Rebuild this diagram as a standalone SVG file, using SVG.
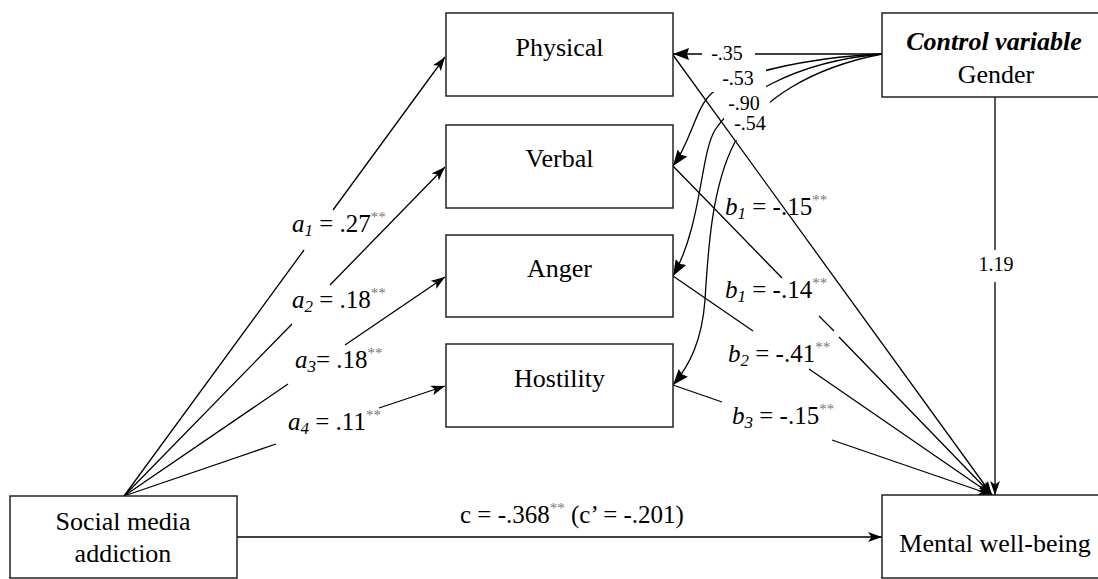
<svg xmlns="http://www.w3.org/2000/svg" width="1098" height="579" viewBox="0 0 1098 579">
<defs>
<marker id="ah" markerUnits="userSpaceOnUse" markerWidth="14" markerHeight="10" refX="14" refY="5" orient="auto">
<path d="M0,0 L14,5 L0,10 L3.5,5 z" fill="#000"/>
</marker>
<marker id="ahc" markerUnits="userSpaceOnUse" markerWidth="16" markerHeight="12" refX="16" refY="6" orient="auto">
<path d="M0,0 L16,6 L0,12 L2,6 z" fill="#000"/>
</marker>
</defs>
<rect width="1098" height="579" fill="#fff"/>

<g id="connectors" fill="none" stroke="#000" stroke-width="1.3">
<path d="M882,54 C800,58 735,75 712,93 C695,108 692,140 673,166" marker-end="url(#ahc)"/>
<path d="M882,54 C790,62 735,100 715,130 C700,155 702,225 673,276" marker-end="url(#ahc)"/>
<path d="M882,54 C810,68 760,100 735,142 C712,185 708,250 705,300 C702,340 690,365 673,385" marker-end="url(#ahc)"/>
<g fill="#fff" stroke="none">
<rect x="712" y="66" width="54" height="26"/>
<rect x="716" y="92" width="54" height="24"/>
<rect x="724" y="116" width="52" height="24"/>
</g>
<path d="M882,54 L755,54 M702,54 L673,54" marker-end="url(#ahc)"/>
<path d="M124,496 L304,250 M333,210 L445,57" marker-end="url(#ah)"/>
<path d="M124,496 L292,324 M330,285 L445,167" marker-end="url(#ah)"/>
<path d="M124,496 L288,384 M345,345 L445,277" marker-end="url(#ah)"/>
<path d="M124,496 L276,444 M379,408 L445,386" marker-end="url(#ah)"/>
<path d="M673,55 L992,495" marker-end="url(#ah)"/>
<path d="M673,166 L782,278 M819,316 L834,331 M839,337 L992,495" marker-end="url(#ah)"/>
<path d="M673,276 L753,331 M809,369 L992,495" marker-end="url(#ah)"/>
<path d="M673,385 L722,402 M832,440 L992,495" marker-end="url(#ah)"/>
<path d="M995,97 L995,250 M995,282 L995,495" marker-end="url(#ah)"/>
<path d="M237,537 L882,537" marker-end="url(#ah)"/>
</g>

<g id="labels" fill="#000">
<text style="font-family:'Liberation Serif',serif" font-size="20" text-anchor="middle" x="727" y="60">-.35</text>
<text style="font-family:'Liberation Serif',serif" font-size="20" text-anchor="middle" x="738" y="85">-.53</text>
<text style="font-family:'Liberation Serif',serif" font-size="20" text-anchor="middle" x="744" y="110">-.90</text>
<text style="font-family:'Liberation Serif',serif" font-size="20" text-anchor="middle" x="750" y="130">-.54</text>
<text style="font-family:'Liberation Serif',serif" font-size="20" text-anchor="middle" x="996" y="271">1.19</text>
<text style="font-family:'Liberation Serif',serif" font-size="25" x="292" y="232"><tspan font-style="italic">a</tspan><tspan font-style="italic" font-size="17" dy="4">1</tspan><tspan dy="-4"> = .27</tspan><tspan fill="#777" font-size="15" dy="-10">**</tspan></text>
<text style="font-family:'Liberation Serif',serif" font-size="25" x="292" y="308"><tspan font-style="italic">a</tspan><tspan font-style="italic" font-size="17" dy="4">2</tspan><tspan dy="-4"> = .18</tspan><tspan fill="#777" font-size="15" dy="-10">**</tspan></text>
<text style="font-family:'Liberation Serif',serif" font-size="25" x="295" y="368"><tspan font-style="italic">a</tspan><tspan font-style="italic" font-size="17" dy="4">3</tspan><tspan dy="-4">= .18</tspan><tspan fill="#777" font-size="15" dy="-10">**</tspan></text>
<text style="font-family:'Liberation Serif',serif" font-size="25" x="288" y="430"><tspan font-style="italic">a</tspan><tspan font-style="italic" font-size="17" dy="4">4</tspan><tspan dy="-4"> = .11</tspan><tspan fill="#777" font-size="15" dy="-10">**</tspan></text>
<text style="font-family:'Liberation Serif',serif" font-size="25" x="725" y="215"><tspan font-style="italic">b</tspan><tspan font-style="italic" font-size="17" dy="4">1</tspan><tspan dy="-4"> = -.15</tspan><tspan fill="#777" font-size="15" dy="-10">**</tspan></text>
<text style="font-family:'Liberation Serif',serif" font-size="25" x="725" y="298"><tspan font-style="italic">b</tspan><tspan font-style="italic" font-size="17" dy="4">1</tspan><tspan dy="-4"> = -.14</tspan><tspan fill="#777" font-size="15" dy="-10">**</tspan></text>
<text style="font-family:'Liberation Serif',serif" font-size="25" x="728" y="362"><tspan font-style="italic">b</tspan><tspan font-style="italic" font-size="17" dy="4">2</tspan><tspan dy="-4"> = -.41</tspan><tspan fill="#777" font-size="15" dy="-10">**</tspan></text>
<text style="font-family:'Liberation Serif',serif" font-size="25" x="732" y="424"><tspan font-style="italic">b</tspan><tspan font-style="italic" font-size="17" dy="4">3</tspan><tspan dy="-4"> = -.15</tspan><tspan fill="#777" font-size="15" dy="-10">**</tspan></text>
<text style="font-family:'Liberation Serif',serif" font-size="25" x="460" y="523">c = -.368<tspan fill="#777" font-size="15" dy="-10">**</tspan><tspan dy="10"> (c’ = -.201)</tspan></text>
</g>

<g id="node-physical">
<rect x="446" y="13" width="227" height="83" fill="#fff" stroke="#222" stroke-width="1.5"/>
<text style="font-family:'Liberation Serif',serif" font-size="26" text-anchor="middle" x="559.5" y="56">Physical</text>
</g>
<g id="node-verbal">
<rect x="446" y="125" width="227" height="83" fill="#fff" stroke="#222" stroke-width="1.5"/>
<text style="font-family:'Liberation Serif',serif" font-size="26" text-anchor="middle" x="559.5" y="167">Verbal</text>
</g>
<g id="node-anger">
<rect x="446" y="235" width="227" height="82" fill="#fff" stroke="#222" stroke-width="1.5"/>
<text style="font-family:'Liberation Serif',serif" font-size="26" text-anchor="middle" x="559.5" y="277">Anger</text>
</g>
<g id="node-hostility">
<rect x="446" y="344" width="227" height="83" fill="#fff" stroke="#222" stroke-width="1.5"/>
<text style="font-family:'Liberation Serif',serif" font-size="26" text-anchor="middle" x="559.5" y="387">Hostility</text>
</g>
<g id="node-gender">
<rect x="882" y="13" width="220" height="84" fill="#fff" stroke="#222" stroke-width="1.5"/>
<text style="font-family:'Liberation Serif',serif" font-size="26" text-anchor="middle" x="994" y="50" font-weight="bold" font-style="italic">Control variable</text>
<text style="font-family:'Liberation Serif',serif" font-size="26" text-anchor="middle" x="996" y="83">Gender</text>
</g>
<g id="node-sma">
<rect x="10" y="496" width="227" height="82" fill="#fff" stroke="#222" stroke-width="1.5"/>
<text style="font-family:'Liberation Serif',serif" font-size="26" text-anchor="middle" x="123" y="530">Social media</text>
<text style="font-family:'Liberation Serif',serif" font-size="26" text-anchor="middle" x="123" y="562">addiction</text>
</g>
<g id="node-mwb">
<rect x="882" y="495" width="220" height="83" fill="#fff" stroke="#222" stroke-width="1.5"/>
<text style="font-family:'Liberation Serif',serif" font-size="26" text-anchor="middle" x="995" y="552">Mental well-being</text>
</g>
</svg>
